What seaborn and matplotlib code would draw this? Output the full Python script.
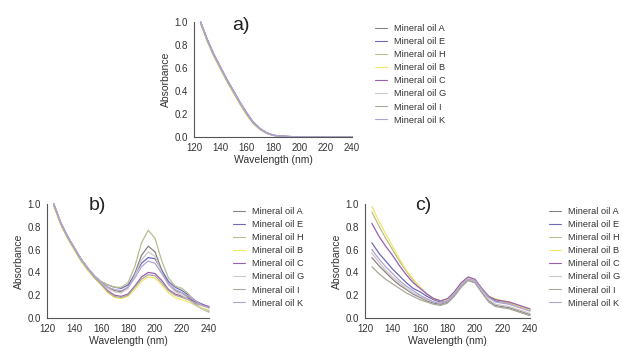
import matplotlib
matplotlib.use("Agg")
import matplotlib.pyplot as plt
import seaborn as sns
import pandas as pd

# wavelengths sampled every 5 nm
wavelength = [125, 130, 135, 140, 145, 150, 155, 160, 165, 170, 175, 180,
              185, 190, 195, 200, 205, 210, 215, 220, 225, 230, 235, 240]

oil_names = ["Mineral oil A", "Mineral oil E", "Mineral oil H", "Mineral oil B",
             "Mineral oil C", "Mineral oil G", "Mineral oil I", "Mineral oil K"]

# panel a) absorbance
a_A = [1.00, 0.84, 0.71, 0.60, 0.49, 0.39, 0.29, 0.20, 0.12, 0.07, 0.035, 0.015, 0.007, 0.004, 0.003, 0.002, 0.002, 0.001, 0.001, 0.001, 0.000, 0.000, 0.000, 0.000]
a_E = [1.00, 0.85, 0.72, 0.61, 0.50, 0.40, 0.30, 0.21, 0.13, 0.075, 0.038, 0.017, 0.008, 0.005, 0.003, 0.002, 0.002, 0.001, 0.001, 0.001, 0.001, 0.000, 0.000, 0.000]
a_H = [0.99, 0.84, 0.71, 0.60, 0.49, 0.39, 0.29, 0.20, 0.12, 0.07, 0.034, 0.015, 0.007, 0.004, 0.003, 0.002, 0.001, 0.001, 0.001, 0.000, 0.000, 0.000, 0.000, 0.000]
a_B = [0.99, 0.83, 0.70, 0.59, 0.48, 0.38, 0.28, 0.19, 0.115, 0.065, 0.032, 0.014, 0.006, 0.004, 0.002, 0.002, 0.001, 0.001, 0.001, 0.000, 0.000, 0.000, 0.000, 0.000]
a_C = [1.00, 0.85, 0.72, 0.61, 0.50, 0.40, 0.30, 0.21, 0.125, 0.072, 0.036, 0.016, 0.008, 0.005, 0.003, 0.002, 0.002, 0.001, 0.001, 0.001, 0.000, 0.000, 0.000, 0.000]
a_G = [1.00, 0.84, 0.71, 0.60, 0.49, 0.39, 0.29, 0.20, 0.12, 0.07, 0.035, 0.015, 0.007, 0.004, 0.003, 0.002, 0.002, 0.001, 0.001, 0.001, 0.000, 0.000, 0.000, 0.000]
a_I = [0.99, 0.84, 0.71, 0.60, 0.49, 0.39, 0.29, 0.20, 0.12, 0.07, 0.034, 0.015, 0.007, 0.004, 0.003, 0.002, 0.001, 0.001, 0.001, 0.000, 0.000, 0.000, 0.000, 0.000]
a_K = [1.00, 0.85, 0.72, 0.61, 0.50, 0.40, 0.30, 0.21, 0.13, 0.074, 0.037, 0.016, 0.008, 0.005, 0.003, 0.002, 0.002, 0.001, 0.001, 0.001, 0.001, 0.000, 0.000, 0.000]

# panel b) absorbance
b_A = [1.00, 0.84, 0.72, 0.62, 0.52, 0.44, 0.37, 0.31, 0.27, 0.24, 0.23, 0.27, 0.39, 0.55, 0.63, 0.58, 0.42, 0.30, 0.24, 0.22, 0.18, 0.12, 0.08, 0.06]
b_E = [1.00, 0.84, 0.72, 0.62, 0.52, 0.44, 0.37, 0.32, 0.29, 0.27, 0.26, 0.29, 0.38, 0.48, 0.53, 0.52, 0.42, 0.32, 0.27, 0.24, 0.20, 0.15, 0.12, 0.09]
b_H = [1.00, 0.84, 0.72, 0.62, 0.52, 0.44, 0.37, 0.32, 0.29, 0.27, 0.27, 0.31, 0.45, 0.66, 0.77, 0.70, 0.50, 0.35, 0.28, 0.26, 0.21, 0.13, 0.08, 0.05]
b_B = [0.98, 0.82, 0.70, 0.60, 0.50, 0.42, 0.35, 0.29, 0.22, 0.18, 0.17, 0.19, 0.25, 0.32, 0.36, 0.35, 0.29, 0.22, 0.18, 0.16, 0.14, 0.11, 0.09, 0.07]
b_C = [1.00, 0.84, 0.72, 0.62, 0.52, 0.44, 0.36, 0.30, 0.24, 0.20, 0.19, 0.21, 0.28, 0.36, 0.40, 0.39, 0.33, 0.25, 0.21, 0.19, 0.17, 0.14, 0.12, 0.10]
b_G = [1.00, 0.84, 0.72, 0.62, 0.52, 0.44, 0.37, 0.31, 0.26, 0.23, 0.22, 0.26, 0.37, 0.51, 0.58, 0.54, 0.40, 0.29, 0.23, 0.20, 0.16, 0.11, 0.08, 0.06]
b_I = [0.99, 0.83, 0.71, 0.61, 0.51, 0.43, 0.36, 0.30, 0.23, 0.19, 0.18, 0.20, 0.27, 0.34, 0.38, 0.37, 0.31, 0.24, 0.20, 0.18, 0.16, 0.13, 0.11, 0.09]
b_K = [1.00, 0.84, 0.72, 0.62, 0.52, 0.44, 0.37, 0.31, 0.27, 0.25, 0.24, 0.27, 0.35, 0.45, 0.50, 0.48, 0.39, 0.30, 0.25, 0.22, 0.19, 0.15, 0.11, 0.09]

# panel c) absorbance
c_A = [0.53, 0.46, 0.40, 0.34, 0.29, 0.25, 0.21, 0.18, 0.15, 0.13, 0.12, 0.14, 0.20, 0.28, 0.33, 0.31, 0.23, 0.15, 0.11, 0.10, 0.09, 0.07, 0.05, 0.03]
c_E = [0.66, 0.57, 0.50, 0.43, 0.37, 0.31, 0.26, 0.23, 0.19, 0.16, 0.14, 0.16, 0.22, 0.30, 0.35, 0.33, 0.25, 0.18, 0.15, 0.14, 0.13, 0.11, 0.09, 0.07]
c_H = [0.93, 0.81, 0.70, 0.60, 0.50, 0.41, 0.33, 0.27, 0.21, 0.17, 0.15, 0.16, 0.22, 0.30, 0.35, 0.33, 0.25, 0.19, 0.16, 0.14, 0.13, 0.11, 0.09, 0.07]
c_B = [0.98, 0.85, 0.74, 0.63, 0.52, 0.42, 0.34, 0.27, 0.21, 0.17, 0.15, 0.16, 0.22, 0.30, 0.35, 0.33, 0.25, 0.19, 0.17, 0.15, 0.14, 0.11, 0.09, 0.07]
c_C = [0.83, 0.72, 0.63, 0.55, 0.46, 0.38, 0.31, 0.26, 0.21, 0.17, 0.15, 0.17, 0.23, 0.31, 0.36, 0.34, 0.26, 0.19, 0.16, 0.15, 0.14, 0.12, 0.10, 0.08]
c_G = [0.57, 0.49, 0.42, 0.36, 0.31, 0.26, 0.22, 0.19, 0.16, 0.14, 0.13, 0.15, 0.21, 0.29, 0.34, 0.32, 0.24, 0.16, 0.12, 0.11, 0.10, 0.08, 0.06, 0.04]
c_I = [0.45, 0.39, 0.34, 0.30, 0.26, 0.22, 0.19, 0.16, 0.14, 0.12, 0.11, 0.13, 0.19, 0.27, 0.33, 0.31, 0.22, 0.14, 0.10, 0.09, 0.08, 0.06, 0.04, 0.02]
c_K = [0.60, 0.52, 0.45, 0.39, 0.33, 0.28, 0.24, 0.20, 0.17, 0.14, 0.13, 0.15, 0.21, 0.29, 0.34, 0.33, 0.25, 0.18, 0.14, 0.13, 0.12, 0.10, 0.08, 0.06]

oil_colors = ["#8a8282", "#6a6ab8", "#b9bd90", "#f0e66a",
              "#9a5fb0", "#cfc7c7", "#aaa89a", "#aea4d2"]


def to_long(series):
    rows = []
    for name, vals in zip(oil_names, series):
        for w, v in zip(wavelength, vals):
            rows.append({"Wavelength": w, "Absorbance": v, "Oil": name})
    return pd.DataFrame(rows)


def draw_panel(fig, rect, series, label, label_xy, legend_xy):
    ax = fig.add_axes(rect)
    df = to_long(series)
    sns.lineplot(data=df, x="Wavelength", y="Absorbance", hue="Oil",
                 hue_order=oil_names, palette=dict(zip(oil_names, oil_colors)),
                 linewidth=0.9, ax=ax, legend=True)
    ax.set_xlim(120, 240)
    ax.set_ylim(0, 1.0)
    ax.set_xticks(range(120, 241, 20))
    ax.set_yticks([0.0, 0.2, 0.4, 0.6, 0.8, 1.0])
    ax.set_yticklabels(["0.0", "0.2", "0.4", "0.6", "0.8", "1.0"])
    ax.set_xlabel("Wavelength (nm)", fontsize=7.5, color="#333333", labelpad=1)
    ax.set_ylabel("Absorbance", fontsize=7.5, color="#333333", labelpad=2)
    ax.tick_params(labelsize=7, colors="#333333", length=3, width=0.7, pad=1.5)
    for s in ["left", "bottom"]:
        ax.spines[s].set_color("#555555")
        ax.spines[s].set_linewidth(0.8)
    sns.despine(ax=ax)
    for line in ax.lines:
        line.set_clip_on(False)
    ax.legend_.remove()
    handles, labels = ax.get_legend_handles_labels()
    leg = fig.legend(handles, labels, loc="upper left", bbox_to_anchor=legend_xy,
                     frameon=False, fontsize=6.7, labelcolor="#333333",
                     handlelength=1.3, handletextpad=0.7, labelspacing=0.44,
                     borderaxespad=0, borderpad=0)
    for h in leg.get_lines():
        h.set_linewidth(0.8)
    fig.text(label_xy[0], label_xy[1], label, fontsize=14, color="#222222",
             ha="center", va="center")
    return ax


sns.set_style("white")
plt.rcParams["font.family"] = ["Liberation Sans", "DejaVu Sans"]

W, H = 622, 347
fig = plt.figure(figsize=(W / 100, H / 100), dpi=100)

draw_panel(fig, [194 / W, 1 - 137 / H, (352 - 194) / W, (137 - 22) / H],
           [a_A, a_E, a_H, a_B, a_C, a_G, a_I, a_K], "a)",
           (241 / W, 1 - 26 / H), (375 / W, 1 - 24 / H))
draw_panel(fig, [47 / W, 1 - 318 / H, (209 - 47) / W, (318 - 204) / H],
           [b_A, b_E, b_H, b_B, b_C, b_G, b_I, b_K], "b)",
           (97 / W, 1 - 205 / H), (233 / W, 1 - 207 / H))
draw_panel(fig, [365 / W, 1 - 318 / H, (530 - 365) / W, (318 - 204) / H],
           [c_A, c_E, c_H, c_B, c_C, c_G, c_I, c_K], "c)",
           (423 / W, 1 - 205 / H), (549 / W, 1 - 207 / H))

fig.savefig("out.png", dpi=100)
